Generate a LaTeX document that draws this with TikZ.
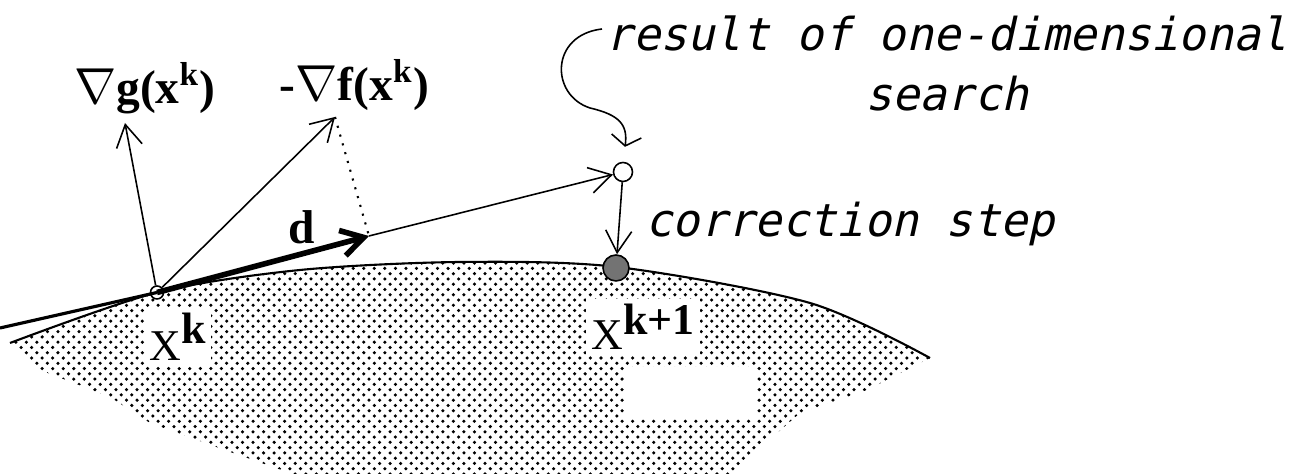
\documentclass[tikz,border=0pt]{standalone}
\usepackage{fontspec}
\setmainfont{Liberation Serif}
\newfontfamily\notefont[FakeSlant=0.22]{DejaVu Sans Mono}
\usepackage{tikz}
\usetikzlibrary{arrows.meta,patterns}

\begin{document}
\begin{tikzpicture}[
    vec/.style={line width=0.45pt, -{Straight Barb[length=2.2mm,width=2.6mm]}},
    pt/.style={circle, draw, line width=0.45pt, inner sep=0pt, minimum size=#1},
    lbl/.style={font=\fontsize{13.5}{16}\selectfont\bfseries, inner sep=1pt},
    xlbl/.style={font=\fontsize{12.5}{14}\selectfont, fill=white, inner sep=1.5pt},
    note/.style={font=\notefont\fontsize{12.9}{17.1}\selectfont, inner sep=0pt}
  ]
  \useasboundingbox (0,0) rectangle (12.98,4.74);
  % feasible region
  \fill[pattern=crosshatch dots] plot[smooth] coordinates {(0.10,1.31) (1.57,1.815) (3.00,2.04) (4.60,2.12) (6.17,2.07) (8.10,1.71) (9.30,1.16)}
    -- (8.67,0.84) -- (8.00,0.61) -- (7.77,0.41) -- (7.33,0) -- (2.93,0) -- (2.33,0.21) -- (1.50,0.51) -- (1.10,0.77) -- (0.40,1.04) -- cycle;
  \fill[white] (6.25,0.56) rectangle (7.57,1.07);
  \draw[line width=0.6pt] plot[smooth] coordinates {(0.10,1.31) (1.57,1.815) (3.00,2.04) (4.60,2.12) (6.17,2.07) (8.10,1.71) (9.30,1.16)};

  % points
  \node[pt=1.3mm, fill=white] (xk) at (1.57,1.815) {};
  \node[pt=1.9mm, fill=white] (res) at (6.23,3.02) {};
  \node[pt=2.6mm, fill=black!55] (new) at (6.16,2.06) {};
  \coordinate (left) at (0,1.46);
  \coordinate (gtip) at (1.25,3.51);
  \coordinate (ftip) at (3.35,3.57);
  \coordinate (dtip) at (3.69,2.38);
  \coordinate (hook) at (6.02,4.45);

  % vectors
  \draw[line width=0.9pt] (left) -- (xk.center);
  \draw[vec, line width=1.6pt] (xk.center) -- (dtip);
  \draw[vec] (xk) -- (gtip);
  \draw[vec] (xk) -- (ftip);
  \draw[dotted, line width=0.6pt] (ftip) -- (dtip);
  \draw[vec] (dtip) -- (res);
  \draw[vec] (res) -- (new);
  \draw[line width=0.45pt, -{Straight Barb[length=1mm,width=3mm]}, shorten >=1.5mm]
    (hook) .. controls (5.50,4.39) and (5.50,3.79) .. (5.90,3.66)
    .. controls (6.20,3.59) and (6.28,3.49) .. (res.north);

  % labels
  \node[lbl] (gl) at (1.45,3.86) {$\nabla$g(x\textsuperscript{k})};
  \node[lbl] (fl) at (3.545,3.89) {-$\nabla$f(x\textsuperscript{k})};
  \node[lbl] (dl) at (3.02,2.47) {d};
  \node[xlbl] (xkl) at (1.78,1.37) {X\raisebox{4.8pt}{\bfseries k}};
  \node[xlbl] (xnl) at (6.43,1.47) {X\raisebox{4.3pt}{\bfseries k+1}};
  \node[note, anchor=base west] (corr) at (6.45,2.37) {correction step};
  \node[note, align=center, anchor=north] (search) at (9.47,4.59) {result of one-dimensional\\search};
\end{tikzpicture}
\end{document}
